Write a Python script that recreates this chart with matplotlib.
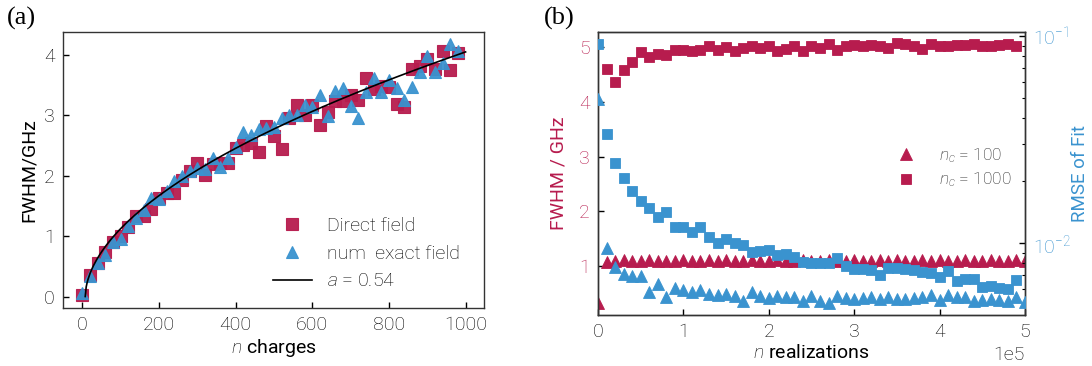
import numpy as np
import matplotlib
matplotlib.use("Agg")
import matplotlib.pyplot as plt

plt.rcParams['font.family'] = ['Roboto', 'DejaVu Sans']
plt.rcParams['font.weight'] = 'light'
plt.rcParams['mathtext.fontset'] = 'custom'
plt.rcParams['mathtext.it'] = 'Roboto:italic:light'
plt.rcParams['mathtext.rm'] = 'Roboto:light'

RED = '#B71C4E'
BLUE = '#3A93CF'

# ---------------- panel (a) data ----------------
n_charges = np.arange(0, 1000, 20)
direct_field = [0.03, 0.35, 0.56, 0.74, 0.90, 1.00, 1.15, 1.33, 1.34, 1.45,
                1.63, 1.71, 1.72, 1.93, 2.07, 2.21, 2.02, 2.20, 2.21, 2.21,
                2.46, 2.51, 2.55, 2.40, 2.82, 2.66, 2.44, 2.95, 3.17, 3.01,
                3.17, 2.84, 3.06, 3.23, 3.24, 3.34, 3.26, 3.61, 3.43, 3.49,
                3.47, 3.18, 3.13, 3.76, 3.82, 3.93, 3.76, 4.07, 3.75, 4.04]
exact_field = [0.05, 0.34, 0.56, 0.69, 0.90, 0.95, 1.17, 1.30, 1.43, 1.63,
               1.61, 1.74, 1.91, 2.00, 2.07, 2.13, 2.11, 2.29, 2.15, 2.30,
               2.47, 2.73, 2.68, 2.77, 2.79, 2.80, 2.95, 3.01, 3.01, 3.17,
               3.13, 3.34, 2.99, 3.41, 3.45, 3.16, 2.95, 3.38, 3.61, 3.39,
               3.59, 3.45, 3.26, 3.47, 3.71, 3.98, 3.72, 3.87, 4.18, 4.06]
fit_exponent = 0.54
fit_n0 = 8.0
fit_n_max = 1000.0
fit_value_at_max = 4.05

# ---------------- panel (b) data ----------------
realizations_sq = np.arange(0, 50) * 1e4
realizations_tri = np.arange(0, 51) * 1e4
fwhm_1000 = [np.nan, 4.60, 4.36, 4.58, 4.72, 4.91, 4.82, 4.88, 4.86, 4.94,
             4.94, 4.92, 4.94, 5.01, 4.95, 5.00, 4.92, 4.98, 5.01, 4.98,
             5.01, 4.92, 4.96, 5.01, 4.93, 5.01, 4.98, 5.06, 4.95, 5.01,
             5.03, 5.01, 5.03, 5.01, 4.98, 5.07, 5.05, 5.01, 4.96, 5.06,
             5.02, 5.01, 5.04, 5.04, 5.06, 5.02, 5.01, 5.04, 5.05, 5.02]
fwhm_100 = [0.32, 1.07, 1.10, 1.11, 1.10, 1.10, 1.11, 1.09, 1.10, 1.10,
            1.11, 1.10, 1.10, 1.11, 1.10, 1.11, 1.10, 1.10, 1.11, 1.10,
            1.10, 1.11, 1.10, 1.10, 1.11, 1.10, 1.10, 1.11, 1.10, 1.10,
            1.11, 1.10, 1.10, 1.11, 1.10, 1.11, 1.10, 1.10, 1.11, 1.10,
            1.11, 1.10, 1.10, 1.11, 1.10, 1.10, 1.11, 1.10, 1.10, 1.11, 1.10]
rmse_1000 = [0.0915, 0.0335, 0.0245, 0.0206, 0.0179, 0.0160, 0.0147, 0.0133, 0.0142, 0.0120,
             0.0119, 0.0113, 0.0119, 0.0107, 0.0100, 0.0105, 0.0100, 0.00977, 0.00907, 0.00914,
             0.00924, 0.00875, 0.00881, 0.00859, 0.00812, 0.00804, 0.00804, 0.00798, 0.00849, 0.00774,
             0.00746, 0.00746, 0.00741, 0.00700, 0.00760, 0.00755, 0.00746, 0.00741, 0.00727, 0.00714,
             0.00687, 0.00735, 0.00658, 0.00668, 0.00668, 0.00615, 0.00619, 0.00604, 0.00597, 0.00663]
rmse_100 = [0.0494, 0.00942, 0.00769, 0.00707, 0.00696, 0.00696, 0.00578, 0.00634, 0.00551, 0.00604,
            0.00593, 0.00582, 0.00593, 0.00568, 0.00561, 0.00568, 0.00555, 0.00526, 0.00578, 0.00556,
            0.00540, 0.00556, 0.00547, 0.00551, 0.00526, 0.00556, 0.00526, 0.00515, 0.00556, 0.00544,
            0.00535, 0.00540, 0.00551, 0.00535, 0.00547, 0.00535, 0.00535, 0.00540, 0.00551, 0.00561,
            0.00531, 0.00561, 0.00551, 0.00547, 0.00526, 0.00531, 0.00535, 0.00531, 0.00526, 0.00551, 0.00520]

fig = plt.figure(figsize=(10.92, 3.66), dpi=100)
axa = fig.add_axes([0.0577, 0.1585, 0.3855, 0.7541])
axb = fig.add_axes([0.5476, 0.1393, 0.3910, 0.7741])

FS = 14
ms_sq = 8.3
ms_tri = 9.0

# ---- panel (a)
axa.plot(n_charges, direct_field, 's', color=RED, ms=ms_sq, mec=RED, mew=0.8,
         alpha=0.95, label='Direct field', zorder=2)
axa.plot(n_charges, exact_field, '^', color=BLUE, ms=ms_tri, mec=BLUE, mew=0.8,
         alpha=0.95, label='num  exact field', zorder=3)
n_fit = np.linspace(fit_n0, fit_n_max, 400)
c_fit = fit_value_at_max / (fit_n_max - fit_n0) ** fit_exponent
axa.plot(n_fit, c_fit * (n_fit - fit_n0) ** fit_exponent, '-', color='black', lw=1.2,
         label=r'$a$ = %.2f' % fit_exponent, zorder=4)
axa.set_xlim(-50, 1048)
axa.set_ylim(-0.19, 4.38)
axa.set_xticks([0, 200, 400, 600, 800, 1000])
axa.set_yticks([0, 1, 2, 3, 4])
axa.tick_params(direction='in', labelsize=FS, length=4, width=1, pad=6)
axa.set_xlabel(r'$n$ charges', fontsize=FS, labelpad=2)
axa.set_ylabel('FWHM/GHz', fontsize=FS, labelpad=4)
axa.legend(loc='lower right', frameon=False, fontsize=FS, handlelength=2.0,
           handletextpad=0.8, labelspacing=0.5, borderaxespad=0.5,
           bbox_to_anchor=(0.985, 0.0))
for s in axa.spines.values():
    s.set_linewidth(1.0)
    s.set_color('#333333')

# ---- panel (b)
axb.plot(realizations_tri, fwhm_100, '^', color=RED, ms=8, mec=RED, mew=0.6,
         label=r'$n_c$ = 100', zorder=2)
axb.plot(realizations_sq, fwhm_1000, 's', color=RED, ms=7.8, mec=RED, mew=0.6,
         label=r'$n_c$ = 1000', zorder=2)
axb.set_xlim(0, 5e5)
axb.set_ylim(0.105, 5.28)
axb.set_yticks([1, 2, 3, 4, 5])
axb.set_xticks([0, 1e5, 2e5, 3e5, 4e5, 5e5])
axb.ticklabel_format(axis='x', style='sci', scilimits=(0, 0), useMathText=False)
axb.xaxis.get_offset_text().set_fontsize(FS)
axb.tick_params(direction='in', labelsize=FS, length=4, width=1, pad=6)
axb.tick_params(axis='y', labelcolor=RED)
axb.set_xlabel(r'$n$ realizations', fontsize=FS, labelpad=2)
axb.set_ylabel('FWHM / GHz', fontsize=FS, color=RED)
axb.yaxis.set_label_coords(-0.072, 0.5)

axr = axb.twinx()
axr.set_yscale('log')
axr.plot(realizations_tri, rmse_100, '^', color=BLUE, ms=8, mec=BLUE, mew=0.6, zorder=3)
axr.plot(realizations_sq, rmse_1000, 's', color=BLUE, ms=7.8, mec=BLUE, mew=0.6, zorder=3)
axr.set_ylim(0.00449, 0.105)
axr.tick_params(which='both', direction='in', labelsize=FS, labelcolor=BLUE, pad=6)
axr.tick_params(which='major', length=4, width=1)
axr.tick_params(which='minor', length=2.5, width=0.8)
axr.set_ylabel('RMSE of Fit', fontsize=13.5, color=BLUE)
axr.yaxis.set_label_coords(1.108, 0.5)
axr.set_xlim(0, 5e5)

leg = axb.legend(loc='center left', bbox_to_anchor=(0.645, 0.52), frameon=False,
                 fontsize=12.5, handlelength=2.0, handletextpad=0.9, labelspacing=0.35)
for t in leg.get_texts():
    t.set_color('#222222')
for ax in (axb, axr):
    for s in ax.spines.values():
        s.set_linewidth(1.0)
        s.set_color('#333333')

fig.text(0.006, 0.95, '(a)', fontsize=19, family=['Liberation Serif', 'DejaVu Serif'],
         weight='normal', va='center', ha='left')
fig.text(0.498, 0.95, '(b)', fontsize=19, family=['Liberation Serif', 'DejaVu Serif'],
         weight='normal', va='center', ha='left')

fig.savefig('out.png', dpi=100)
